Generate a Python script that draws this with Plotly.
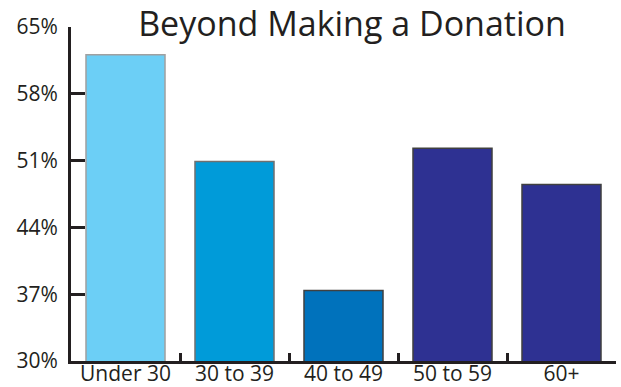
import plotly.graph_objects as go

categories = ["Under 30", "30 to 39", "40 to 49", "50 to 59", "60+"]
values = [62.1, 50.9, 37.4, 52.3, 48.5]
bar_colors = ["#6ccff6", "#009bd9", "#0072bc", "#2e3192", "#2e3192"]
line_colors = ["#a0a0a0", "#707070", "#404040", "#404040", "#404040"]
y_ticks = [30, 37, 44, 51, 58, 65]
y_tick_labels = ["30%", "37%", "44%", "51%", "58%", "65%"]
title_text = "Beyond Making a Donation"

ink = "#231f20"
font_family = "Open Sans, Noto Sans, sans-serif"

fig = go.Figure(
    go.Bar(
        x=categories,
        y=values,
        marker=dict(color=bar_colors, line=dict(color=line_colors, width=1.5)),
        width=0.725,
    )
)

fig.update_layout(
    width=621,
    height=387,
    margin=dict(l=71, r=5, t=27, b=26, autoexpand=False),
    paper_bgcolor="white",
    plot_bgcolor="white",
    showlegend=False,
    font=dict(family=font_family, color=ink, size=21),
    title=dict(
        text=title_text,
        font=dict(size=34, color=ink, family=font_family),
        x=352 / 621,
        xanchor="center",
        xref="container",
        y=1 - 24 / 387,
        yanchor="middle",
        yref="container",
    ),
)

fig.update_xaxes(
    type="category",
    range=[-0.5, 4.5],
    showline=True,
    linewidth=3,
    linecolor=ink,
    ticks="inside",
    tickson="boundaries",
    ticklen=8,
    tickwidth=3,
    tickcolor=ink,
    showgrid=False,
    zeroline=False,
    automargin=False,
    ticklabelstandoff=-8,
    tickfont=dict(size=21, color=ink),
)

fig.update_yaxes(
    range=[30, 65],
    tickmode="array",
    tickvals=y_ticks,
    ticktext=y_tick_labels,
    showline=True,
    linewidth=3,
    linecolor=ink,
    ticks="inside",
    ticklen=14,
    tickwidth=3,
    tickcolor=ink,
    showgrid=False,
    zeroline=False,
    automargin=False,
    ticklabelstandoff=6,
    tickfont=dict(size=21, color=ink),
)

fig.write_html("out.html")
